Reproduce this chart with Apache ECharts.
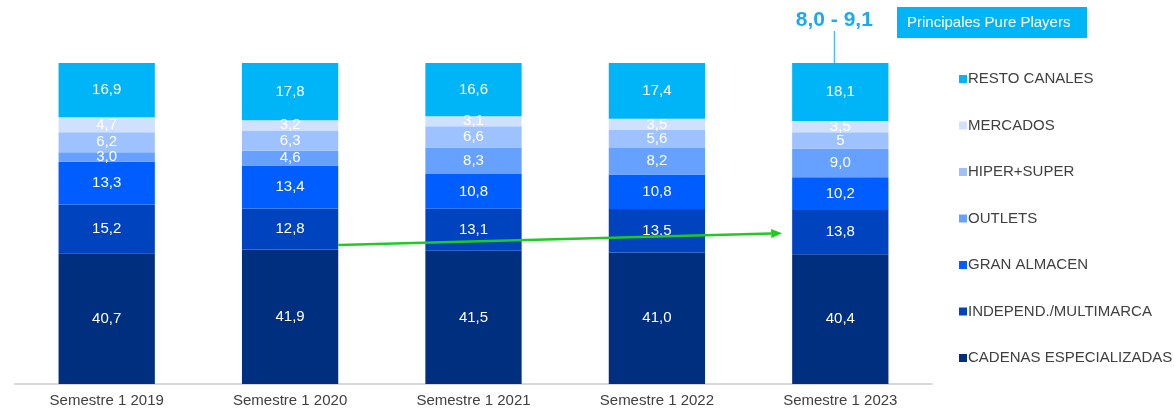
<!DOCTYPE html>
<html><head><meta charset="utf-8">
<script src="https://cdn.jsdelivr.net/npm/echarts@6/dist/echarts.min.js"></script>
<style>html,body{margin:0;padding:0;background:#fff}#c{width:1174px;height:408px}</style>
</head><body><div id="c"></div>
<script>
const categories = ['Semestre 1 2019','Semestre 1 2020','Semestre 1 2021','Semestre 1 2022','Semestre 1 2023'];
const cadenas   = [40.7, 41.9, 41.5, 41.0, 40.4];
const independ  = [15.2, 12.8, 13.1, 13.5, 13.8];
const granAlm   = [13.3, 13.4, 10.8, 10.8, 10.2];
const outlets   = [3.0, 4.6, 8.3, 8.2, 9.0];
const hiper     = [6.2, 6.3, 6.6, 5.6, 5];
const mercados  = [4.7, 3.2, 3.1, 3.5, 3.5];
const resto     = [16.9, 17.8, 16.6, 17.4, 18.1];
const seriesNames = ['CADENAS ESPECIALIZADAS','INDEPEND./MULTIMARCA','GRAN ALMACEN','OUTLETS','HIPER+SUPER','MERCADOS','RESTO CANALES'];
const seriesValues = [cadenas, independ, granAlm, outlets, hiper, mercados, resto];
const colors = ['#002F80','#0043BF','#005DFF','#66A1FF','#9EC1FF','#CFE1FF','#00B5F7'];
const pureRange = '8,0 - 9,1';
const pureLabel = 'Principales Pure Players';
// arrow anchors (values on the 0-100 scale)
const arrowFrom = {cat: 1, val: 43.3};
const arrowTo   = {cat: 4, val: 47.0};

const fmt = v => (Number.isInteger(v) && v === 5) ? String(v) : v.toFixed(1).replace('.', ',');

const chart = echarts.init(document.getElementById('c'));
const barWidthPct = 0.525;
chart.setOption({
  animation: false,
  grid: {left: 15, right: 242, top: 63, bottom: 22},
  xAxis: {
    type: 'category', data: categories,
    axisLine: {lineStyle: {color: '#D9D9D9', width: 2}},
    axisTick: {show: false},
    axisLabel: {color: '#404040', fontFamily: 'Liberation Sans', fontSize: 15, margin: 9}
  },
  yAxis: {type: 'value', min: 0, max: 100, show: false, splitLine: {show: false}},
  legend: {
    orient: 'vertical', left: 954, top: 66,
    data: seriesNames.slice().reverse(),
    icon: 'rect', itemWidth: 8, itemHeight: 8, itemGap: 30.5,
    textStyle: {color: '#404040', fontFamily: 'Liberation Sans', fontSize: 15, lineHeight: 16, padding: [0,0,0,-4]}
  },
  series: seriesNames.map((n, i) => ({
    name: n, type: 'bar', stack: 'total', barWidth: (barWidthPct*100)+'%',
    data: seriesValues[i],
    itemStyle: {color: colors[i]},
    label: {show: true, position: 'inside', color: '#FFFFFF', fontFamily: 'Liberation Sans', fontSize: 15,
      formatter: p => fmt(p.value)}
  }))
});

function draw() {
  const catW = chart.convertToPixel({xAxisIndex:0}, categories[1]) - chart.convertToPixel({xAxisIndex:0}, categories[0]);
  const half = catW * barWidthPct / 2;
  const p1 = chart.convertToPixel({gridIndex:0}, [categories[arrowFrom.cat], arrowFrom.val]);
  const p2 = chart.convertToPixel({gridIndex:0}, [categories[arrowTo.cat], arrowTo.val]);
  const x1 = p1[0] + half, y1 = p1[1];
  const x2 = p2[0] - half - 10, y2 = p2[1];
  const ang = Math.atan2(y2 - y1, x2 - x1);
  const L = 11, W = 4.5;
  const bx = x2 - L*Math.cos(ang), by = y2 - L*Math.sin(ang);
  const head = [[x2, y2], [bx + W*Math.sin(ang), by - W*Math.cos(ang)], [bx - W*Math.sin(ang), by + W*Math.cos(ang)]];
  const top = chart.convertToPixel({gridIndex:0}, [categories[4], 100]);
  const cx = top[0] - 6;
  chart.setOption({graphic: [
    {type: 'line', shape: {x1: x1, y1: y1, x2: bx, y2: by}, style: {stroke: '#1FCB1F', lineWidth: 2.5}, z: 100},
    {type: 'polygon', shape: {points: head}, style: {fill: '#1FCB1F'}, z: 100},
    {type: 'line', shape: {x1: cx, y1: top[1] - 32, x2: cx, y2: top[1]}, style: {stroke: '#1DA9EE', lineWidth: 1}, z: 100},
    {type: 'text', x: cx, y: top[1] - 43, style: {text: pureRange, fill: '#1DA9EE', font: 'bold 21px Liberation Sans', align: 'center', verticalAlign: 'middle'}, z: 100},
    {type: 'rect', shape: {x: 897, y: 7, width: 190, height: 31}, style: {fill: '#00B5F7'}, z: 100},
    {type: 'text', x: 907, y: 22.5, style: {text: pureLabel, fill: '#FFFFFF', font: '15px Liberation Sans', verticalAlign: 'middle'}, z: 101}
  ]});
}
draw();
</script></body></html>
